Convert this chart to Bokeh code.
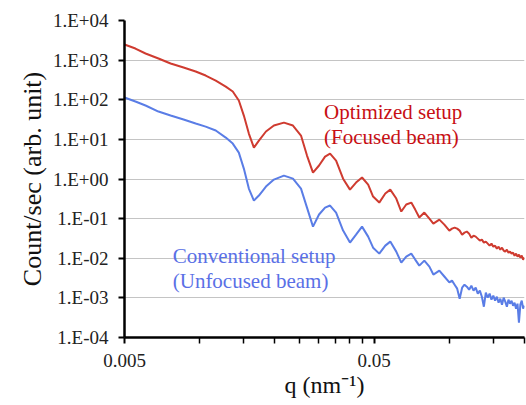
from bokeh.plotting import figure
from bokeh.models import Range1d, FixedTicker, CustomJSTickFormatter, Label
from bokeh.embed import file_html
from bokeh.resources import INLINE

# scattering vector q (nm^-1)
q = [0.00500, 0.00553, 0.00607, 0.00684, 0.00765, 0.00862, 0.00964, 0.01057, 0.01160, 0.01272,
     0.01357, 0.01435, 0.01503, 0.01574, 0.01649, 0.01727, 0.01843, 0.01983, 0.02175, 0.02364,
     0.02546, 0.02691, 0.02844, 0.03007, 0.03179, 0.03329, 0.03519, 0.03754, 0.0400, 0.0423,
     0.0447, 0.0473, 0.0495, 0.0524, 0.0554, 0.0580, 0.0613, 0.0642, 0.0672, 0.0704,
     0.0730, 0.0758, 0.0794, 0.0832, 0.0863, 0.0912, 0.0955, 0.1000,
     0.1025, 0.1050, 0.1075, 0.1100, 0.1125, 0.1150, 0.1175, 0.1200, 0.1225, 0.1250,
     0.1275, 0.1300, 0.1325, 0.1350, 0.1375, 0.1400, 0.1425, 0.1450, 0.1475, 0.1500,
     0.1525, 0.1550, 0.1575, 0.1600, 0.1625, 0.1650, 0.1675, 0.1700, 0.1725, 0.1750,
     0.1775, 0.1800, 0.1825, 0.1850, 0.1875, 0.1900, 0.1925, 0.1950, 0.1975, 0.2000]

# Optimized setup (focused beam)
optimized = [2480, 1960, 1470, 1100, 821, 650, 515, 408, 305, 215,
             161, 95.5, 39.9, 14.0, 6.21, 9.33, 15.8, 22.3, 26.5, 22.3,
             12.5, 3.90, 1.45, 2.19, 3.68, 4.38, 2.92, 1.02, 0.540, 0.811,
             1.09, 0.722, 0.360, 0.254, 0.429, 0.540, 0.321, 0.151, 0.227, 0.254,
             0.169, 0.107, 0.142, 0.100, 0.0749, 0.0944, 0.0707, 0.0498,
             0.0559, 0.0593, 0.0559, 0.0498, 0.0394, 0.0443, 0.0470, 0.0418, 0.0331, 0.0372,
             0.0351, 0.0313, 0.0278, 0.0295, 0.0248, 0.0263, 0.0234, 0.0208, 0.0234, 0.0196,
             0.0208, 0.0175, 0.0196, 0.0165, 0.0185, 0.0156, 0.0147, 0.0165, 0.0138, 0.0147,
             0.0131, 0.0138, 0.0116, 0.0131, 0.0110, 0.0123, 0.0104, 0.0116, 0.00926, 0.0104]

# Conventional setup (unfocused beam)
conventional = [114, 90.1, 71.5, 50.4, 39.9, 31.6, 25.1, 21.0, 16.7, 11.1,
                7.83, 4.64, 1.83, 0.573, 0.285, 0.382, 0.643, 0.966, 1.22, 1.02,
                0.573, 0.190, 0.0628, 0.127, 0.190, 0.214, 0.142, 0.0498, 0.0248, 0.0394,
                0.0628, 0.0351, 0.0185, 0.0131, 0.0208, 0.0263, 0.0147, 0.00775, 0.0110, 0.0131,
                0.00926, 0.00652, 0.00870, 0.00616, 0.00388, 0.00489, 0.00346, 0.00245,
                0.00272, 0.00215, 0.00171, 0.000954, 0.00181, 0.00215, 0.00192, 0.00161, 0.00203, 0.00152,
                0.00181, 0.00128, 0.00152, 0.00107, 0.000599, 0.00135, 0.00101, 0.00128, 0.000901, 0.00114,
                0.000850, 0.00107, 0.000756, 0.000954, 0.000674, 0.00101, 0.000802, 0.000599, 0.000901, 0.000714,
                0.000850, 0.000635, 0.000756, 0.000534, 0.000714, 0.000236, 0.000674, 0.000850, 0.000534, 0.000635]

y_ticks = [1e-4, 1e-3, 1e-2, 1e-1, 1e0, 1e1, 1e2, 1e3, 1e4]
x_major = [0.005, 0.05]
x_minor = [0.01, 0.015, 0.02, 0.025, 0.03, 0.035, 0.04, 0.045, 0.1, 0.15, 0.2]

SERIF = "Liberation Serif, serif"

p = figure(width=526, height=405, x_axis_type="log", y_axis_type="log",
           x_range=Range1d(0.005, 0.2), y_range=Range1d(1e-4, 1e4),
           output_backend="svg", toolbar_location=None,
           min_border_left=124, min_border_right=2, min_border_top=20, min_border_bottom=68)
p.outline_line_color = None
p.background_fill_color = "white"
p.border_fill_color = "white"

p.line(q, optimized, line_color="#cf3b30", line_width=2)
p.line(q, conventional, line_color="#5a7de6", line_width=2)

# y axis
p.yaxis.ticker = FixedTicker(ticks=y_ticks, minor_ticks=[])
p.yaxis.formatter = CustomJSTickFormatter(code="""
const e = Math.round(Math.log10(tick));
const a = Math.abs(e);
return '1.E' + (e < 0 ? '-' : '+') + (a < 10 ? '0' : '') + a;
""")
p.yaxis.axis_line_width = 2.5
p.yaxis.axis_line_color = "black"
p.yaxis.major_tick_line_width = 2
p.yaxis.major_tick_out = 6
p.yaxis.major_tick_in = 0
p.yaxis.minor_tick_line_color = None
p.yaxis.major_label_text_font = SERIF
p.yaxis.major_label_text_font_size = "19px"
p.yaxis.major_label_text_color = "#222222"
p.yaxis.major_label_standoff = 10
p.yaxis.axis_label = "Count/sec (arb. unit)"
p.yaxis.axis_label_text_font = SERIF
p.yaxis.axis_label_text_font_size = "26px"
p.yaxis.axis_label_text_font_style = "normal"
p.yaxis.axis_label_text_color = "#111111"
p.yaxis.axis_label_standoff = 3

# x axis
p.xaxis.ticker = FixedTicker(ticks=x_major, minor_ticks=x_minor)
p.xaxis.formatter = CustomJSTickFormatter(code="return String(Number(tick.toPrecision(3)));")
p.xaxis.axis_line_width = 2.5
p.xaxis.axis_line_color = "black"
p.xaxis.major_tick_line_width = 2
p.xaxis.major_tick_out = 6
p.xaxis.major_tick_in = 0
p.xaxis.minor_tick_line_width = 1.5
p.xaxis.minor_tick_line_color = "black"
p.xaxis.minor_tick_out = 6
p.xaxis.minor_tick_in = 0
p.xaxis.major_label_text_font = SERIF
p.xaxis.major_label_text_font_size = "19px"
p.xaxis.major_label_text_color = "#222222"
p.xaxis.major_label_standoff = 10
p.xaxis.axis_label = "q (nm\u207b\u00b9)"
p.xaxis.axis_label_text_font = SERIF
p.xaxis.axis_label_text_font_size = "24px"
p.xaxis.axis_label_text_font_style = "normal"
p.xaxis.axis_label_text_color = "#111111"
p.xaxis.axis_label_standoff = 2

p.xgrid.visible = False
p.ygrid.grid_line_color = "#c4c4c4"
p.ygrid.grid_line_width = 1

# annotations
RED_TXT = "#c80f14"
BLUE_TXT = "#5a70e6"
p.add_layout(Label(x=0.0315, y=50.4, text="Optimized setup", text_font=SERIF,
                   text_font_size="21px", text_color=RED_TXT, text_baseline="alphabetic"))
p.add_layout(Label(x=0.0315, y=11.8, text="(Focused beam)", text_font=SERIF,
                   text_font_size="21px", text_color=RED_TXT, text_baseline="alphabetic"))
p.add_layout(Label(x=0.0078, y=0.01164, text="Conventional setup", text_font=SERIF,
                   text_font_size="21px", text_color=BLUE_TXT, text_baseline="alphabetic"))
p.add_layout(Label(x=0.0078, y=0.00272, text="(Unfocused beam)", text_font=SERIF,
                   text_font_size="21px", text_color=BLUE_TXT, text_baseline="alphabetic"))

open("out.html", "w").write(file_html(p, INLINE))
